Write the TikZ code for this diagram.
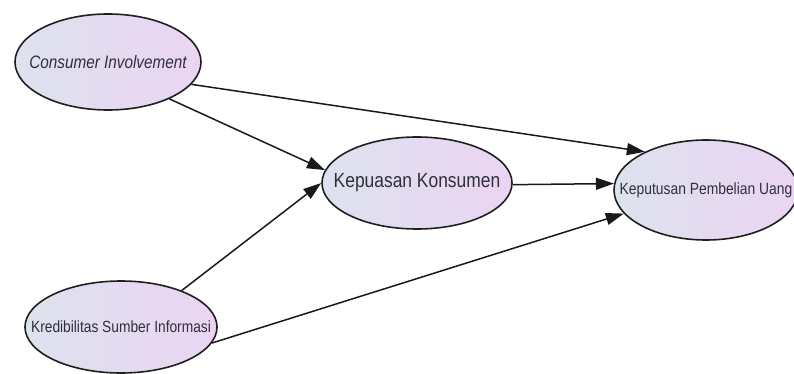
\documentclass[tikz,border=0pt]{standalone}
\usepackage{fontspec}
\setmainfont{Liberation Sans}
\newfontfamily\nfont[FakeStretch=0.85]{Liberation Sans}
\usetikzlibrary{shapes.geometric,arrows.meta}
\definecolor{lblue}{HTML}{DDE2EE}
\definecolor{lpink}{HTML}{EBD4F2}
\definecolor{txtgray}{HTML}{30303A}
\begin{document}
\begin{tikzpicture}[x=1pt,y=-1pt,
  var/.style={ellipse, draw=black!88, line width=1.6pt, left color=lblue, right color=lpink,
    inner sep=0pt, text=txtgray},
  link/.style={-{Triangle[length=18pt,width=12pt]}, line width=1.5pt, black!90}]
\useasboundingbox (0,0) rectangle (794,374);
\node[var, minimum width=186pt, minimum height=96pt, font=\nfont\fontsize{18}{20}\selectfont\itshape] (ci) at (108,62) {\makebox[0pt]{Consumer Involvement}};
\node[var, minimum width=190pt, minimum height=92pt, font=\nfont\fontsize{20.5}{22}\selectfont] (kep) at (417,183) {\makebox[0pt]{Kepuasan Konsumen}};
\node[var, minimum width=184pt, minimum height=100pt, font=\nfont\fontsize{16.3}{18}\selectfont] (kpt) at (706,190) {\makebox[0pt]{Keputusan Pembelian Uang}};
\node[var, minimum width=192pt, minimum height=92pt, font=\nfont\fontsize{16.2}{18}\selectfont] (kred) at (121,327) {\makebox[0pt]{Kredibilitas Sumber Informasi}};
\draw[link] (ci.-31) -- (kep.172);
\draw[link] (ci.-15) -- (kpt.148);
\draw[link] (kred.31) -- (kep.180);
\draw[link] (kred.-10.5) -- (kpt.196);
\draw[link] (kep.-1) -- (kpt.176);
\end{tikzpicture}
\end{document}
